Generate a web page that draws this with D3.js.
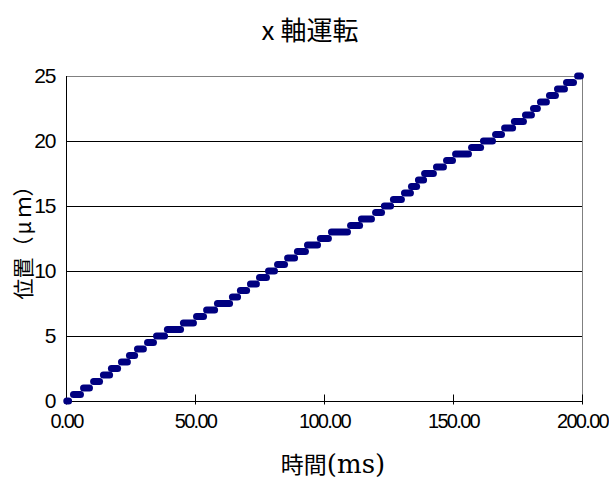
<!DOCTYPE html>
<html><head><meta charset="utf-8">
<script src="https://cdn.jsdelivr.net/npm/d3@7"></script>
<style>
html,body{margin:0;padding:0;background:#fff;}
svg{display:block;}
</style>
</head><body>
<svg id="chart" width="609" height="479"></svg>
<script>
// ---- data ----
const titleText = "x 軸運転";
const xLabelMain = "時間";
const xLabelUnit = "(ms)";
const yLabelParts = ["位置（", "μ", "ｍ）"];
const xTicks = [0, 50, 100, 150, 200];
const yTicks = [0, 5, 10, 15, 20, 25];
// staircase: position level (μm) and the time span (ms) it is held
const stepLevel = [0,0.5,1,1.5,2,2.5,3,3.5,4,4.5,5,5.5,6,6.5,7,7.5,8,8.5,9,9.5,10,10.5,11,11.5,12,12.5,13,13.5,14,14.5,15,15.5,16,16.5,17,17.5,18,18.5,19,19.5,20,20.5,21,21.5,22,22.5,23,23.5,24,24.5,25];
const stepStart = [0.3,2.9,6.8,10.7,14.5,17.6,21.5,24.6,27.7,31.6,35.1,39.3,45.5,50.6,54.5,58.7,64.5,67.6,71.5,75.0,78.5,82.0,85.9,89.7,93.6,98.6,102.9,110.3,114.5,120.0,123.4,126.9,131.2,133.9,136.6,139.0,143.6,147.5,151.0,157.2,161.8,166.5,170.0,173.8,178.1,181.2,183.9,187.4,190.5,194.0,198.3];
const stepEnd   = [1.0,5.6,9.1,13.0,16.9,20.0,23.8,26.6,30.0,33.9,38.2,44.4,49.4,53.3,57.6,63.4,66.5,70.0,73.8,77.7,80.8,84.7,88.6,92.8,97.5,101.7,109.1,113.8,118.4,122.3,125.8,130.0,133.5,135.9,138.6,142.4,146.3,149.8,156.0,160.7,165.3,168.8,173.1,177.3,180.4,182.7,186.2,189.7,193.2,196.7,199.4];

// ---- layout ----
const svg = d3.select("#chart");
const L = 66, R = 582, T = 76, B = 401;
const x = d3.scaleLinear().domain([0, 200]).range([L, R]);
const y = d3.scaleLinear().domain([0, 25]).range([B, T]);
const cjk = "'Noto Sans CJK JP','Noto Sans',sans-serif";
const num = "'Liberation Sans',Arial,sans-serif";

svg.append("rect").attr("width", 609).attr("height", 479).attr("fill", "#fff");

// gridlines
svg.append("g").selectAll("line").data(yTicks.filter(d => d > 0 && d < 25)).join("line")
  .attr("x1", L).attr("x2", R).attr("y1", d => y(d) + 0.5).attr("y2", d => y(d) + 0.5)
  .attr("stroke", "#000").attr("stroke-width", 1);
// plot frame top/right (gray)
svg.append("path").attr("d", `M${L},${T+0.5}H${R+0.5}V${B}`).attr("fill", "none")
  .attr("stroke", "#808080").attr("stroke-width", 1);

// x axis
const gx = svg.append("g").attr("transform", `translate(0,${B + 0.5})`)
  .call(d3.axisBottom(x).tickValues(xTicks).tickFormat(d3.format(".2f")).tickSize(4).tickPadding(22));
gx.select(".domain").attr("stroke", "#000").attr("d", `M${L},0H${R}`);
gx.selectAll(".tick line").attr("y1", -7).attr("y2", 3).attr("stroke", "#000");
gx.selectAll(".tick text").attr("font-family", num).attr("font-size", 20)
  .attr("letter-spacing", "-1.7px").attr("fill", "#000").attr("dy", "0");

// y axis
const gy = svg.append("g").attr("transform", `translate(${L + 0.5},0)`)
  .call(d3.axisLeft(y).tickValues(yTicks).tickFormat(d3.format("d")).tickSize(0).tickPadding(11));
gy.select(".domain").attr("stroke", "#000").attr("d", `M0,${T}V${B + 0.5}`);
gy.selectAll(".tick text").attr("font-family", num).attr("font-size", 21)
  .attr("letter-spacing", "-1px").attr("fill", "#000");

// data steps
svg.append("g").selectAll("line").data(stepLevel.map((v, i) => ({v, a: stepStart[i], b: stepEnd[i]}))).join("line")
  .attr("x1", d => x(d.a)).attr("x2", d => x(d.b))
  .attr("y1", d => y(d.v)).attr("y2", d => y(d.v))
  .attr("stroke", "#000080").attr("stroke-width", 7).attr("stroke-linecap", "round");

// title
svg.append("text").attr("x", 310).attr("y", 40).attr("text-anchor", "middle")
  .attr("font-family", cjk).attr("font-size", 26).attr("fill", "#000").text(titleText);

// x label
const xl = svg.append("text").attr("x", 333).attr("y", 473).attr("text-anchor", "middle")
  .attr("fill", "#000");
xl.append("tspan").attr("font-family", cjk).attr("font-size", 23).text(xLabelMain);
xl.append("tspan").attr("font-family", "'DejaVu Serif','Liberation Serif',serif").attr("font-size", 26).text(xLabelUnit);

// y label
const yl = svg.append("text").attr("transform", `translate(31,${(T + B) / 2 - 1}) rotate(-90)`)
  .attr("text-anchor", "middle").attr("font-family", cjk).attr("font-size", 21).attr("fill", "#000");
yl.append("tspan").text(yLabelParts[0]);
yl.append("tspan").attr("dx", 2).text(yLabelParts[1]);
yl.append("tspan").attr("dx", 4).text(yLabelParts[2]);
</script>
</body></html>
